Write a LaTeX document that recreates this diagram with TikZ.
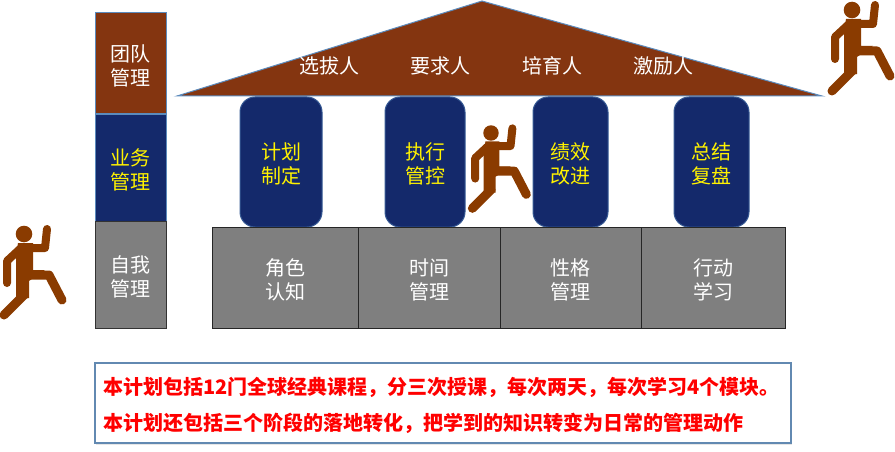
\documentclass[tikz,border=0pt]{standalone}
\usepackage{fontspec}
\setmainfont{Noto Sans CJK SC}
\usetikzlibrary{shadows}
\definecolor{brownroof}{HTML}{843510}
\definecolor{navypillar}{HTML}{14296B}
\definecolor{greybase}{HTML}{7F7F7F}
\definecolor{edgeblue}{HTML}{5B8BBD}
\definecolor{runnercol}{HTML}{8A3B00}
\newcommand{\twolines}[2]{\rule{0pt}{21pt}#1\\#2}
\tikzset{
  block/.style={draw=edgeblue,line width=1pt,align=center,inner sep=0pt,text=white,
    font=\fontsize{20}{24}\selectfont,minimum width=71pt},
  pillar/.style={draw=edgeblue!50!navypillar,line width=1pt,fill=navypillar,rounded corners=15pt,
    align=center,inner sep=0pt,text=yellow,font=\fontsize{20}{24}\selectfont,minimum height=130pt},
  base/.style={draw=black!85,line width=1pt,fill=greybase,align=center,inner sep=0pt,text=white,
    font=\fontsize{20}{24}\selectfont,minimum height=101pt},
  rooflabel/.style={text=white,inner sep=0pt,font=\fontsize{20}{24}\selectfont},
  notetext/.style={anchor=west,inner sep=0pt,text=red,font=\fontsize{20}{24}\bfseries\selectfont},
  runner/.pic={
    \fill[runnercol] (0,0) circle (8.3);
    \fill[runnercol] (-6,9) -- (9,9) -- (9,36) -- (21,36) -- (5,47) -- (5,64) -- (-8,66) -- (-8,22) -- cycle;
    \draw[runnercol,line width=8pt,line cap=round,line join=round] (23,-5) -- (21,14) -- (2,14);
    \draw[runnercol,line width=8pt,line cap=round,line join=round] (-3,14) -- (-17,27) -- (-17,49);
    \draw[runnercol,line width=9pt,line cap=round,line join=round] (6,41) -- (25,41) -- (38,66);
    \draw[runnercol,line width=9pt,line cap=round,line join=round] (0,61) -- (-20,81);
  }
}
\begin{document}
\begin{tikzpicture}[x=1pt,y=-1pt]
\useasboundingbox (0,0) rectangle (895,452);

% roof
\fill[brownroof,draw=edgeblue,line width=1pt] (177,96) -- (482,1) -- (822,96) -- cycle;
\node[rooflabel] (select) at (329,66) {选拔人};
\node[rooflabel] (demand) at (440,66) {要求人};
\node[rooflabel] (train) at (552,66) {培育人};
\node[rooflabel] (motivate) at (663,66) {激励人};

% left column
\node[block,fill=brownroof,minimum height=101pt] (team) at (130.5,63.5) {\twolines{团队}{管理}};
\node[block,fill=navypillar,text=yellow,minimum height=107pt] (business) at (130.5,167.5) {\twolines{业务}{管理}};
\node[block,fill=greybase,draw=black!80,minimum height=107pt] (self) at (130.5,274.5) {\twolines{自我}{管理}};

% pillars
\node[pillar,minimum width=82pt] (plan) at (281,162) {\twolines{计划}{制定}};
\node[pillar,minimum width=80pt] (execute) at (425,162) {\twolines{执行}{管控}};
\node[pillar,minimum width=75pt] (improve) at (570.5,162) {\twolines{绩效}{改进}};
\node[pillar,minimum width=75pt] (review) at (711.5,162) {\twolines{总结}{复盘}};

% foundation
\node[base,minimum width=146pt] (role) at (285,277.5) {\twolines{角色}{认知}};
\node[base,minimum width=142pt] (time) at (429,277.5) {\twolines{时间}{管理}};
\node[base,minimum width=141pt] (nature) at (570.5,277.5) {\twolines{性格}{管理}};
\node[base,minimum width=144pt] (action) at (713,277.5) {\twolines{行动}{学习}};

% runners
\pic at (24,234) {runner};
\pic[scale=0.93] at (491,133) {runner};
\pic at (852,10) {runner};

% note
\node[draw=edgeblue!80!gray,line width=1.5pt,fill=white,minimum width=696pt,minimum height=80pt,
  inner sep=0pt,drop shadow={opacity=0.2,shadow xshift=1pt,shadow yshift=-2pt}] (note) at (443,403) {};
\node[notetext] (line1) at (103,387) {本计划包括12门全球经典课程，分三次授课，每次两天，每次学习4个模块。};
\node[notetext] (line2) at (103,423) {本计划还包括三个阶段的落地转化，把学到的知识转变为日常的管理动作};
\end{tikzpicture}
\end{document}
